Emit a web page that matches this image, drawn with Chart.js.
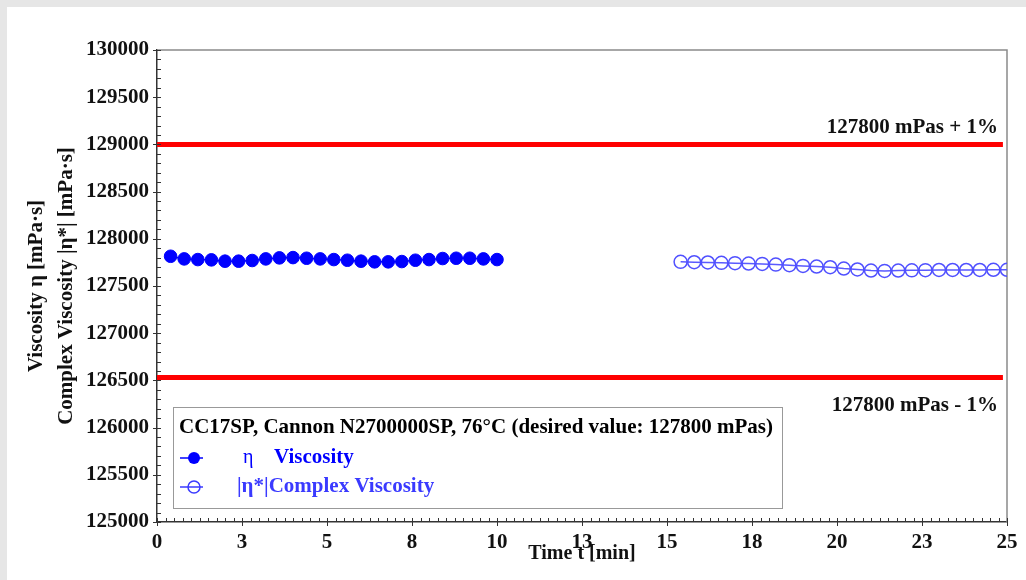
<!DOCTYPE html>
<html>
<head>
<meta charset="utf-8">
<title>Viscosity check CC17SP</title>
<script src="https://cdn.jsdelivr.net/npm/chart.js@4.4.1/dist/chart.umd.min.js"></script>
<style>
    body { margin: 0; background: #e6e6e6; width: 1026px; height: 580px; overflow: hidden; }
    #viscosityChart { position: absolute; left: 7px; top: 7px; background: #ffffff; }
</style>
</head>
<body>
<canvas id="viscosityChart" width="1019" height="573"></canvas>
<script>
// data
const viscosityTime = [0.4, 0.8, 1.2, 1.6, 2.0, 2.4, 2.8, 3.2, 3.6, 4.0, 4.4, 4.8, 5.2,
    5.6, 6.0, 6.4, 6.8, 7.2, 7.6, 8.0, 8.4, 8.8, 9.2, 9.6, 10.0];
const viscosityValues = [127815, 127787, 127780, 127777, 127763, 127763, 127770, 127787, 127798,
    127801, 127794, 127787, 127780, 127773, 127763, 127756, 127756, 127759, 127773, 127780,
    127791, 127794, 127794, 127787, 127780];

const complexTime = [15.4, 15.8, 16.2, 16.6, 17.0, 17.4, 17.8, 18.2, 18.6, 19.0, 19.4, 19.8,
    20.2, 20.6, 21.0, 21.4, 21.8, 22.2, 22.6, 23.0, 23.4, 23.8, 24.2, 24.6, 25.0];
const complexValues = [127756, 127752, 127749, 127745, 127742, 127738, 127734, 127727, 127720,
    127713, 127706, 127699, 127685, 127675, 127664, 127660, 127664, 127666, 127668, 127670,
    127670, 127670, 127670, 127672, 127672];

const limitValues = [129000, 126530];
const limitSpan = [0, 24.88];
const limitLabels = ['127800 mPas + 1%', '127800 mPas - 1%'];

const xTickValues = [0, 2.5, 5, 7.5, 10, 12.5, 15, 17.5, 20, 22.5, 25];
const xTickLabels = ['0', '3', '5', '8', '10', '13', '15', '18', '20', '23', '25'];

const legendTitle = 'CC17SP, Cannon N2700000SP, 76°C (desired value: 127800 mPas)';
const seriesSymbols = ['η', '|η*|'];
const seriesNames = ['Viscosity', 'Complex Viscosity'];

const serif = "'Liberation Serif', 'Times New Roman', serif";

function toPoints(xs, ys) {
    return xs.map((x, i) => ({ x: x, y: ys[i] }));
}

const limitDatasets = limitValues.map(v => ({
    label: 'limit',
    data: toPoints(limitSpan, [v, v]),
    showLine: true,
    borderColor: '#ff0000',
    borderWidth: 5,
    pointRadius: 0
}));

// frame, tick marks, limit labels and the legend box
const decorations = {
    id: 'decorations',
    beforeDatasetsDraw(chart) {
        const { ctx, chartArea: a } = chart;
        ctx.save();
        ctx.strokeStyle = '#8a8a8a';
        ctx.lineWidth = 1.5;
        ctx.beginPath();
        ctx.moveTo(a.left, a.top);
        ctx.lineTo(a.right, a.top);
        ctx.lineTo(a.right, a.bottom);
        ctx.stroke();
        ctx.restore();
    },
    afterDraw(chart) {
        const { ctx, chartArea: a } = chart;
        const xs = chart.scales.x, ys = chart.scales.y;
        ctx.save();
        ctx.strokeStyle = '#333333';
        ctx.lineWidth = 1;

        // x ticks
        for (let i = 0; i <= 100; i++) {
            const px = Math.round(xs.getPixelForValue(i * 0.25)) + 0.5;
            ctx.beginPath();
            if (i % 10 === 0) {
                ctx.moveTo(px, a.bottom - 4);
                ctx.lineTo(px, a.bottom + 4);
            } else {
                ctx.moveTo(px, a.bottom - 4);
                ctx.lineTo(px, a.bottom);
            }
            ctx.stroke();
        }
        // y ticks
        for (let i = 0; i <= 50; i++) {
            const py = Math.round(ys.getPixelForValue(125000 + i * 100)) + 0.5;
            ctx.beginPath();
            if (i % 5 === 0) {
                ctx.moveTo(a.left - 4, py);
                ctx.lineTo(a.left + 4, py);
            } else {
                ctx.moveTo(a.left, py);
                ctx.lineTo(a.left + 4, py);
            }
            ctx.stroke();
        }

        // limit labels
        ctx.fillStyle = '#111111';
        ctx.font = 'bold 21px ' + serif;
        ctx.textAlign = 'right';
        ctx.textBaseline = 'middle';
        ctx.fillText(limitLabels[0], a.right - 9, ys.getPixelForValue(limitValues[0]) - 17);
        ctx.fillText(limitLabels[1], a.right - 9, ys.getPixelForValue(limitValues[1]) + 28);

        // legend box
        const bx = a.left + 16, by = a.top + 357, bw = 609, bh = 101;
        ctx.fillStyle = '#ffffff';
        ctx.fillRect(bx, by, bw, bh);
        ctx.strokeStyle = '#999999';
        ctx.lineWidth = 1;
        ctx.strokeRect(bx + 0.5, by + 0.5, bw, bh);

        ctx.textAlign = 'left';
        ctx.fillStyle = '#000000';
        ctx.font = 'bold 21px ' + serif;
        ctx.fillText(legendTitle, bx + 6, by + 21);

        const rowY = [by + 51, by + 80];
        const colors = ['#0000ff', '#3a3aff'];
        rowY.forEach((ry, i) => {
            ctx.strokeStyle = colors[i];
            ctx.lineWidth = 1.5;
            ctx.beginPath();
            ctx.moveTo(bx + 7, ry);
            ctx.lineTo(bx + 30, ry);
            ctx.stroke();
            ctx.beginPath();
            ctx.arc(bx + 21, ry, 6, 0, Math.PI * 2);
            if (i === 0) {
                ctx.fillStyle = colors[i];
                ctx.fill();
            } else {
                ctx.stroke();
            }
            ctx.fillStyle = colors[i];
            if (i === 0) {
                ctx.font = '20px ' + serif;
                ctx.fillText(seriesSymbols[0], bx + 70, ry);
                ctx.font = 'bold 21px ' + serif;
                ctx.fillText(seriesNames[0], bx + 101, ry);
            } else {
                ctx.font = 'bold 21px ' + serif;
                ctx.fillText(seriesSymbols[1] + seriesNames[1], bx + 64, ry);
            }
        });
        ctx.restore();
    }
};

const chartCtx = document.getElementById('viscosityChart').getContext('2d');

const viscosityChart = new Chart(chartCtx, {
    type: 'scatter',
    data: {
        datasets: [
            ...limitDatasets,
            {
                label: 'η Viscosity',
                data: toPoints(viscosityTime, viscosityValues),
                showLine: true,
                borderColor: '#0000ff',
                borderWidth: 1.5,
                pointRadius: 6.3,
                pointBackgroundColor: '#0000ff',
                pointBorderColor: '#0000ff',
                pointBorderWidth: 1
            },
            {
                label: '|η*|Complex Viscosity',
                data: toPoints(complexTime, complexValues),
                showLine: true,
                borderColor: '#5a5aff',
                borderWidth: 1.5,
                pointRadius: 6.5,
                pointBackgroundColor: 'rgba(0,0,0,0)',
                pointBorderColor: '#5050ff',
                pointBorderWidth: 1.5
            }
        ]
    },
    options: {
        responsive: false,
        animation: false,
        devicePixelRatio: 1,
        layout: { padding: { top: 43, right: 19, bottom: 0, left: 0 } },
        plugins: {
            legend: { display: false },
            tooltip: { enabled: false }
        },
        scales: {
            x: {
                type: 'linear',
                min: 0,
                max: 25,
                afterFit: scale => { scale.height = 58; },
                afterBuildTicks: scale => { scale.ticks = xTickValues.map(v => ({ value: v })); },
                grid: { display: false },
                border: { display: true, color: '#333333', width: 1.5 },
                ticks: {
                    color: '#111111',
                    font: { family: serif, size: 21, weight: 'bold' },
                    padding: 0,
                    maxRotation: 0,
                    autoSkip: false,
                    callback: (value, index) => xTickLabels[index]
                },
                title: {
                    display: true,
                    text: 'Time t [min]',
                    color: '#111111',
                    font: { family: serif, size: 20, weight: 'bold', lineHeight: 1.2 },
                    padding: { top: 0, bottom: 14 }
                }
            },
            y: {
                min: 125000,
                max: 130000,
                afterFit: scale => { scale.width = 150; },
                grid: { display: false },
                border: { display: true, color: '#333333', width: 1.5 },
                ticks: {
                    stepSize: 500,
                    color: '#111111',
                    font: { family: serif, size: 21, weight: 'bold' },
                    padding: 0,
                    callback: value => String(value)
                },
                title: {
                    display: true,
                    text: ['Viscosity η [mPa·s]', 'Complex Viscosity |η*| [mPa·s]'],
                    color: '#111111',
                    font: { family: serif, size: 21, weight: 'bold', lineHeight: 1.43 },
                    padding: { top: 15, bottom: 0 }
                }
            }
        }
    },
    plugins: [decorations]
});
</script>
</body>
</html>
